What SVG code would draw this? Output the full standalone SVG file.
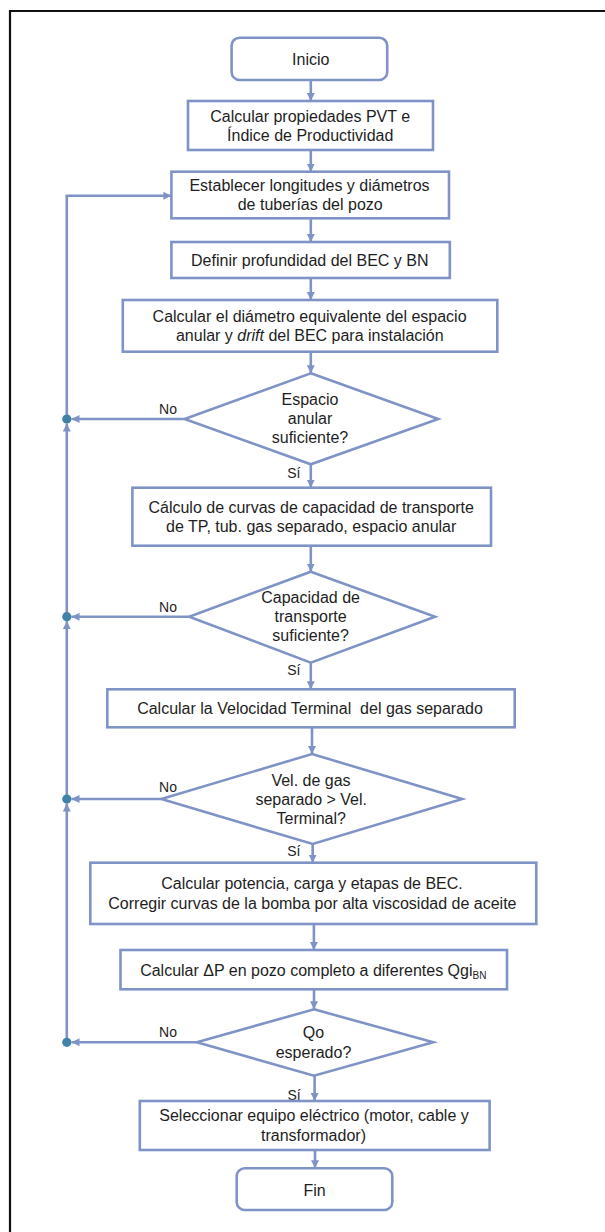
<svg xmlns="http://www.w3.org/2000/svg" width="605" height="1232" viewBox="0 0 605 1232">
<style>
.n{fill:#ffffff;stroke:#7F93C6;stroke-width:2.6}
.c{fill:none;stroke:#7F93C6;stroke-width:2.6}
.t{font-family:"Liberation Sans",Arial,sans-serif;font-size:16px;fill:#1e1e1e;text-anchor:middle}
.l{font-family:"Liberation Sans",Arial,sans-serif;font-size:14px;fill:#1e1e1e;text-anchor:middle}
.d{fill:#3F84A8}
</style>
<defs>
<marker id="ah" markerUnits="userSpaceOnUse" markerWidth="9" markerHeight="9" refX="8" refY="4.5" orient="auto">
<path d="M0,0.5 L8,4.5 L0,8.5 z" fill="#7F93C6"/>
</marker>
</defs>
<rect width="605" height="1232" fill="#ffffff"/>
<path d="M10,1232 V11 H605" fill="none" stroke="#111111" stroke-width="2.2"/>

<g id="connectors">
<line class="c" x1="310.8" y1="80" x2="310.8" y2="101" marker-end="url(#ah)"/>
<line class="c" x1="310.8" y1="150" x2="310.8" y2="171.7" marker-end="url(#ah)"/>
<line class="c" x1="310.8" y1="218.3" x2="310.8" y2="242" marker-end="url(#ah)"/>
<line class="c" x1="310.8" y1="278" x2="310.8" y2="300" marker-end="url(#ah)"/>
<line class="c" x1="310.8" y1="351.7" x2="310.8" y2="373.3" marker-end="url(#ah)"/>
<line class="c" x1="310.8" y1="464.3" x2="310.8" y2="487.7" marker-end="url(#ah)"/>
<line class="c" x1="310.8" y1="545.7" x2="310.8" y2="571.7" marker-end="url(#ah)"/>
<line class="c" x1="310.8" y1="662.7" x2="310.8" y2="689.3" marker-end="url(#ah)"/>
<line class="c" x1="312" y1="727.3" x2="312" y2="754" marker-end="url(#ah)"/>
<line class="c" x1="312.7" y1="844" x2="312.7" y2="862.7" marker-end="url(#ah)"/>
<line class="c" x1="313.9" y1="924" x2="313.9" y2="950" marker-end="url(#ah)"/>
<line class="c" x1="314" y1="989.3" x2="314" y2="1009.3" marker-end="url(#ah)"/>
<line class="c" x1="314.6" y1="1075.7" x2="314.6" y2="1101" marker-end="url(#ah)"/>
<line class="c" x1="315" y1="1150" x2="315" y2="1168.3" marker-end="url(#ah)"/>
<line class="c" x1="184.6" y1="419" x2="71.5" y2="419" marker-end="url(#ah)"/>
<line class="c" x1="189.2" y1="616.7" x2="71.5" y2="616.7" marker-end="url(#ah)"/>
<line class="c" x1="161.4" y1="799" x2="71.5" y2="799" marker-end="url(#ah)"/>
<line class="c" x1="196.9" y1="1042.3" x2="71.5" y2="1042.3" marker-end="url(#ah)"/>
<line class="c" x1="66.8" y1="1042.3" x2="66.8" y2="803.5" marker-end="url(#ah)"/>
<line class="c" x1="66.8" y1="799" x2="66.8" y2="621.2" marker-end="url(#ah)"/>
<line class="c" x1="66.8" y1="616.7" x2="66.8" y2="423.5" marker-end="url(#ah)"/>
<path class="c" d="M66.8,419 V195.7 H171.4" marker-end="url(#ah)"/>
<circle class="d" cx="66.8" cy="419" r="4.6"/>
<circle class="d" cx="66.8" cy="616.7" r="4.6"/>
<circle class="d" cx="66.8" cy="799" r="4.6"/>
<circle class="d" cx="66.8" cy="1042.3" r="4.6"/>
<text class="l" x="168" y="414.3">No</text>
<text class="l" x="168" y="612.3">No</text>
<text class="l" x="168" y="792.3">No</text>
<text class="l" x="168" y="1037.3">No</text>
<text class="l" x="293.8" y="477.7">Sí</text>
<text class="l" x="293.8" y="675">Sí</text>
<text class="l" x="293.8" y="856">Sí</text>
<text class="l" x="294" y="1100">Sí</text>
</g>

<g id="inicio">
<rect class="n" x="231.6" y="37.7" width="155.6" height="42.3" rx="8"/>
<text class="t" x="310.8" y="65">Inicio</text>
</g>
<g id="pvt">
<rect class="n" x="188" y="101" width="245" height="49"/>
<text class="t" x="310.2" y="121.7">Calcular propiedades PVT e</text>
<text class="t" x="310.2" y="140.7">Índice de Productividad</text>
</g>
<g id="establecer">
<rect class="n" x="171.4" y="171.7" width="277.6" height="46.6"/>
<text class="t" x="309.5" y="190.8">Establecer longitudes y diámetros</text>
<text class="t" x="310.2" y="209.8">de tuberías del pozo</text>
</g>
<g id="definir">
<rect class="n" x="171.4" y="242" width="278.4" height="36"/>
<text class="t" x="309.8" y="265.7">Definir profundidad del BEC y BN</text>
</g>
<g id="diametro">
<rect class="n" x="122.8" y="300" width="374.5" height="51.7"/>
<text class="t" x="309.6" y="321.5">Calcular el diámetro equivalente del espacio</text>
<text class="t" x="309.8" y="340.7">anular y <tspan font-style="italic">drift</tspan> del BEC para instalación</text>
</g>
<g id="espacio">
<polygon class="n" points="310.8,373.3 438.2,419 310.8,464.3 184.6,419"/>
<text class="t" x="310" y="404.5">Espacio</text>
<text class="t" x="310" y="424">anular</text>
<text class="t" x="310" y="443.3">suficiente?</text>
</g>
<g id="curvas">
<rect class="n" x="132.4" y="487.7" width="358.6" height="58"/>
<text class="t" x="311.2" y="512.8">Cálculo de curvas de capacidad de transporte</text>
<text class="t" x="311.2" y="532.3">de TP, tub. gas separado, espacio anular</text>
</g>
<g id="capacidad">
<polygon class="n" points="310.8,571.7 435.1,616.7 310.8,662.7 189.2,616.7"/>
<text class="t" x="310.6" y="602.8">Capacidad de</text>
<text class="t" x="310.6" y="622.2">transporte</text>
<text class="t" x="310.6" y="641.2">suficiente?</text>
</g>
<g id="velocidad">
<rect class="n" x="107.3" y="689.3" width="407.4" height="38"/>
<text class="t" x="310" y="714" style="white-space:pre">Calcular la Velocidad Terminal  del gas separado</text>
</g>
<g id="velgas">
<polygon class="n" points="312,754 462.2,799 312.7,844 161.4,799"/>
<text class="t" x="311" y="785.7">Vel. de gas</text>
<text class="t" x="311.2" y="805">separado &gt; Vel.</text>
<text class="t" x="311.2" y="824.3">Terminal?</text>
</g>
<g id="potencia">
<rect class="n" x="90.3" y="862.7" width="446" height="61.3"/>
<text class="t" x="312" y="889.3">Calcular potencia, carga y etapas de BEC.</text>
<text class="t" x="312.4" y="909">Corregir curvas de la bomba por alta viscosidad de aceite</text>
</g>
<g id="deltap">
<rect class="n" x="120.5" y="950" width="386.5" height="39.3"/>
<text class="t" x="313.3" y="975.7">Calcular ΔP en pozo completo a diferentes Qgi<tspan font-size="10" dy="3">BN</tspan></text>
</g>
<g id="qo">
<polygon class="n" points="314,1009.3 433.2,1042.3 314,1075.7 196.9,1042.3"/>
<text class="t" x="313.5" y="1038.3">Qo</text>
<text class="t" x="313.5" y="1057.7">esperado?</text>
</g>
<g id="seleccionar">
<rect class="n" x="139.8" y="1101" width="349.8" height="49"/>
<text class="t" x="314" y="1121">Seleccionar equipo eléctrico (motor, cable y</text>
<text class="t" x="313.5" y="1140.7">transformador)</text>
</g>
<g id="fin">
<rect class="n" x="236.7" y="1168.3" width="155.6" height="41.7" rx="8"/>
<text class="t" x="314.5" y="1195.7">Fin</text>
</g>
</svg>
